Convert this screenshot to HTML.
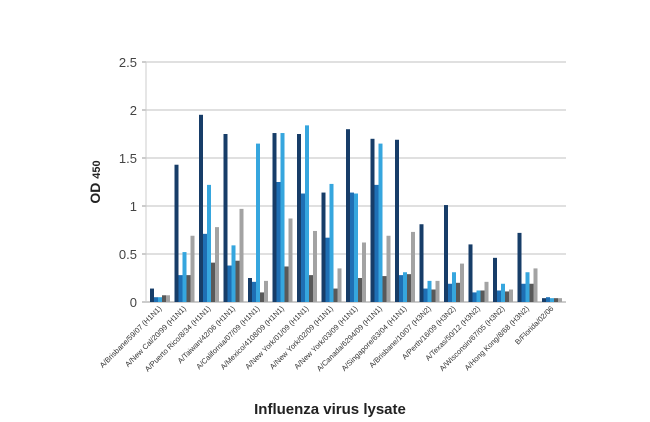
<!DOCTYPE html>
<html><head><meta charset="utf-8"><style>
html,body{margin:0;padding:0;background:#fff;width:650px;height:422px;overflow:hidden}
svg{display:block;font-family:"Liberation Sans",Arial,sans-serif}
</style></head><body>
<svg id="chart" width="650" height="422"></svg>
<script>
const categories=["A/Brisbane/59/07 (H1N1)","A/New Cal/20/99 (H1N1)","A/Puerto Rico/8/34 (H1N1)","A/Taiwan/42/06 (H1N1)","A/California/07/09 (H1N1)","A/Mexico/4108/09 (H1N1)","A/New York/01/09 (H1N1)","A/New York/02/09 (H1N1)","A/New York/03/09 (H1N1)","A/Canada/6294/09 (H1N1)","A/Singapore/63/04 (H1N1)","A/Brisbane/10/07 (H3N2)","A/Perth/16/09 (H3N2)","A/Texas/50/12 (H3N2)","A/Wisconsin/67/05 (H3N2)","A/Hong Kong/8/68 (H3N2)","B/Florida/02/06"];
const series1=[0.14,1.43,1.95,1.75,0.25,1.76,1.75,1.14,1.80,1.70,1.69,0.81,1.01,0.60,0.46,0.72,0.04];
const series2=[0.05,0.28,0.71,0.38,0.21,1.25,1.13,0.67,1.14,1.22,0.28,0.14,0.19,0.10,0.12,0.19,0.05];
const series3=[0.05,0.52,1.22,0.59,1.65,1.76,1.84,1.23,1.13,1.65,0.31,0.22,0.31,0.12,0.19,0.31,0.04];
const series4=[0.07,0.28,0.41,0.43,0.10,0.37,0.28,0.14,0.25,0.27,0.29,0.13,0.20,0.12,0.11,0.19,0.04];
const series5=[0.07,0.69,0.78,0.97,0.22,0.87,0.74,0.35,0.62,0.69,0.73,0.22,0.40,0.21,0.13,0.35,0.04];
const yTicks=[0,0.5,1,1.5,2,2.5];
const yTickLabels=["0","0.5","1","1.5","2","2.5"];
const colors=["#173d68","#1f6fb4","#36a6de","#595959","#a3a3a3"];
const NS="http://www.w3.org/2000/svg";
const svg=document.getElementById('chart');
const X0=146,X1=566,Y0=302,Ytop=62;
const y=v=>Y0-(v/2.5)*(Y0-Ytop);
const gw=24.5, bw=4;
const gx=i=>150+i*gw;
function mk(tag,attrs){const e=document.createElementNS(NS,tag);for(const k in attrs)e.setAttribute(k,attrs[k]);svg.appendChild(e);return e;}
yTicks.forEach((t,i)=>{
  const g=mk('line',{x1:X0,x2:X1,y1:y(t),y2:y(t),stroke:i===0?'#999':'#c0c0c0','stroke-width':1});
  
  
  const tk=mk('line',{x1:X0-4,x2:X0,y1:y(t),y2:y(t),stroke:'#999'});
  
  
  const tx=mk('text',{x:X0-9,y:y(t)+5,'text-anchor':'end','font-size':13,fill:'#444'});
  tx.textContent=yTickLabels[i];
  
  
});
const ax=mk('line',{x1:X0,x2:X0,y1:Ytop,y2:Y0,stroke:'#ccc'});


const all=[series1,series2,series3,series4,series5];
categories.forEach((c,i)=>{
  all.forEach((s,j)=>{
    const r=mk('rect',{x:gx(i)+j*bw,y:y(s[i]),width:bw,height:Y0-y(s[i]),fill:colors[j]});
    
    
  });
  const cx=gx(i)+12, cy=309;
  const t=mk('text',{x:cx,y:cy,'text-anchor':'end','font-size':7.5,fill:'#333',transform:`rotate(-45 ${cx} ${cy})`});
  t.textContent=c;
  
  
});
const xt=mk('text',{x:330,y:414,'text-anchor':'middle','font-size':15,'font-weight':'bold',fill:'#222'});
xt.textContent='Influenza virus lysate';


const yt=mk('text',{x:0,y:0,'text-anchor':'middle','font-size':14,'font-weight':'bold',fill:'#222',transform:'translate(100,182) rotate(-90)'});
yt.innerHTML='OD <tspan font-size="11">450</tspan>';


</script>
</body></html>
